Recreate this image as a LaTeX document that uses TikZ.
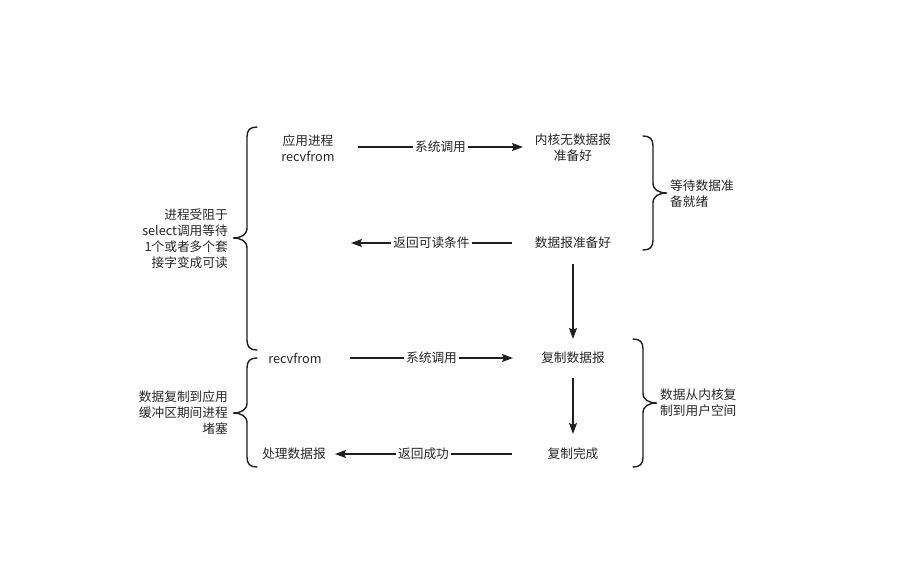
\documentclass[tikz,border=0pt]{standalone}
\usepackage{fontspec}
\setmainfont{Noto Sans CJK SC}
\usetikzlibrary{arrows.meta}
\definecolor{txt}{HTML}{262626}
\definecolor{ln}{HTML}{1F1F1F}
\begin{document}
\begin{tikzpicture}[x=1pt,y=-1pt,
  lbl/.style={text=txt,font=\fontsize{12.7}{16}\selectfont,align=center,inner sep=0pt},
  lbll/.style={lbl,align=left,anchor=west},
  lblr/.style={lbl,align=right,anchor=east},
  arr/.style={draw=ln,line width=1.4pt,-{Stealth[length=11pt,width=8pt,inset=2pt]}},
  onarr/.style={lbl,fill=white,inner xsep=2pt,inner ysep=1pt},
  brc/.style={draw=ln,line width=1.4pt,line cap=round}]
\useasboundingbox (0,0) rectangle (924,576);

% text nodes
\node[lbl] (app) at (308,148) {应用进程\\recvfrom};
\node[lbl] (kno) at (573,148) {内核无数据报\\准备好};
\node[lbl] (kready) at (573,243) {数据报准备好};
\node[lbl] (recv2) at (295,358) {recvfrom};
\node[lbl] (copy) at (573,358) {复制数据报};
\node[lbl] (done) at (573,454) {复制完成};
\node[lbl] (proc) at (294,454) {处理数据报};

\node[lblr] (lt) at (228,239) {进程受阻于\\select调用等待\\1个或者多个套\\接字变成可读};
\node[lblr] (lb) at (228,413) {数据复制到应用\\缓冲区期间进程\\堵塞};
\node[lbll] (rt) at (670,194) {等待数据准\\备就绪};
\node[lbll] (rb) at (660,403) {数据从内核复\\制到用户空间};

% arrow end points
\coordinate (a1s) at (358,147); \coordinate (a1e) at (523,147);
\coordinate (a2s) at (512,243); \coordinate (a2e) at (351,243);
\coordinate (a3s) at (573,264); \coordinate (a3e) at (573,339);
\coordinate (a4s) at (350,358); \coordinate (a4e) at (513,358);
\coordinate (a5s) at (573,378); \coordinate (a5e) at (573,434);
\coordinate (a6s) at (512,454); \coordinate (a6e) at (335,454);

\draw[arr] (a1s) -- node[onarr] (l1) {系统调用} (a1e);
\draw[arr] (a2s) -- node[onarr] (l2) {返回可读条件} (a2e);
\draw[arr] (a3s) -- (a3e);
\draw[arr] (a4s) -- node[onarr] (l4) {系统调用} (a4e);
\draw[arr] (a5s) -- (a5e);
\draw[arr] (a6s) -- node[onarr] (l6) {返回成功} (a6e);

% braces
% left big
\draw[brc] (257,127) .. controls (250,127) and (247,130) .. (247,137) -- (247,228)
  .. controls (247,235) and (241,238) .. (233,238)
  .. controls (241,238) and (247,241) .. (247,248) -- (247,340)
  .. controls (247,347) and (250,350) .. (257,350);
% left small
\draw[brc] (257,358) .. controls (250,358) and (247,361) .. (247,368) -- (247,403)
  .. controls (247,410) and (241,413) .. (233,413)
  .. controls (241,413) and (247,416) .. (247,423) -- (247,457)
  .. controls (247,464) and (250,467) .. (257,467);
% right top
\draw[brc] (643,136) .. controls (650,136) and (653,139) .. (653,146) -- (653,183)
  .. controls (653,190) and (659,193) .. (667,193)
  .. controls (659,193) and (653,196) .. (653,203) -- (653,240)
  .. controls (653,247) and (650,250) .. (643,250);
% right bottom
\draw[brc] (633,339) .. controls (640,339) and (643,342) .. (643,349) -- (643,393)
  .. controls (643,400) and (649,403) .. (657,403)
  .. controls (649,403) and (643,406) .. (643,413) -- (643,457)
  .. controls (643,464) and (640,467) .. (633,467);
\end{tikzpicture}
\end{document}
